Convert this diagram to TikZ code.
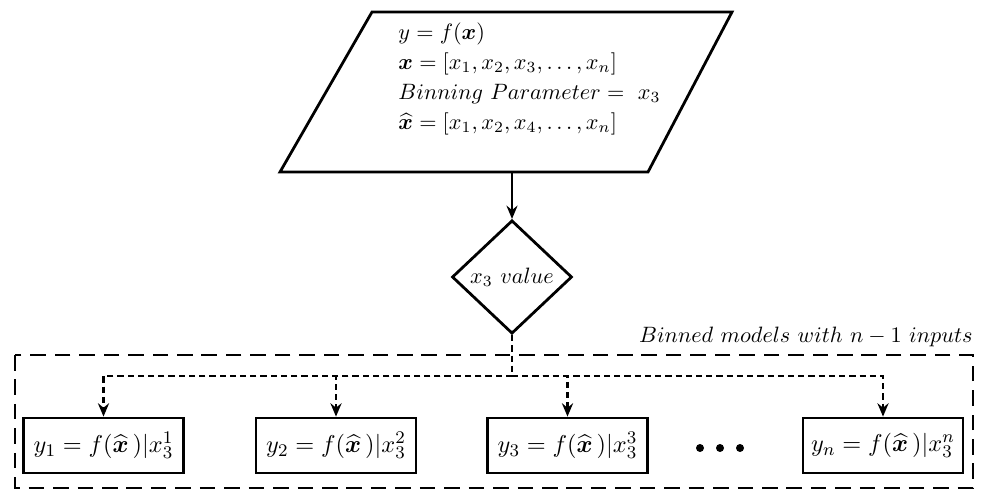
\documentclass[tikz,border=0pt]{standalone}
\usepackage{amsmath,bm}
\usetikzlibrary{shapes.geometric,arrows.meta}
\tikzset{
  caixa/.style={draw, line width=1.25pt, minimum width=72pt, minimum height=24.75pt, inner sep=0pt,
                font=\fontsize{11}{13}\selectfont},
  losango/.style={draw, diamond, line width=1.25pt, minimum width=54pt, minimum height=51pt, inner sep=0pt},
  tracejado/.style={line width=1.2pt, dash pattern=on 2.8pt off 1.8pt},
  seta/.style={-{Stealth[length=6pt,width=5pt,inset=2pt]}},
}
\begin{document}
\begin{tikzpicture}[x=0.45pt,y=-0.45pt]
  \useasboundingbox (0,0) rectangle (989,491);

  \draw[line width=1.25pt] (372,12)--(732,12)--(648,172)--(280,172)--cycle; % paralelogramo
  \node[anchor=west, align=left, inner sep=0pt,
        execute at begin node=\setlength{\baselineskip}{13.5pt}] (entrada) at (398,79)
       {$y = f(\boldsymbol{x})$\\
        $\boldsymbol{x} = [x_1, x_2, x_3, \dots, x_n]$\\
        $Binning\ Parameter =\ x_3$\\
        $\widehat{\boldsymbol{x}} = [x_1, x_2, x_4, \dots, x_n]$};
  \coordinate (saida) at (512,172); % base do paralelogramo

  \node[losango] (valor) at (512,277) {$x_3\ value$};
  \draw[line width=1.25pt, seta] (saida) -- (valor.north);

  % modelos
  \node[caixa] (m1) at (103.5,445.5) {$y_1 = f(\widehat{\boldsymbol{x}}\,)|x_3^1$};
  \node[caixa] (m2) at (336,445.5) {$y_2 = f(\widehat{\boldsymbol{x}}\,)|x_3^2$};
  \node[caixa] (m3) at (567.5,445.5) {$y_3 = f(\widehat{\boldsymbol{x}}\,)|x_3^3$};
  \node[caixa] (mn) at (883,445.5) {$y_n = f(\widehat{\boldsymbol{x}}\,)|x_3^n$};

  \foreach \Point in {(700,448),(720,448),(740,448)}{
    \fill \Point circle (1.8pt);
  }

  % ligacoes tracejadas
  \coordinate (ramo) at (512,376);
  \draw[tracejado] (valor.south) -- (ramo);
  \foreach \m in {m1,m2,m3,mn}
    \draw[tracejado, seta] (ramo) -| (\m.north);

  % grupo
  \draw[line width=1.25pt, dash pattern=on 7pt off 4pt] (15,355) rectangle (973,488);
  \node[anchor=base east, inner sep=0pt] (rotulo) at (973,342) {$Binned\ models\ with\ n-1\ inputs$};
\end{tikzpicture}
\end{document}
